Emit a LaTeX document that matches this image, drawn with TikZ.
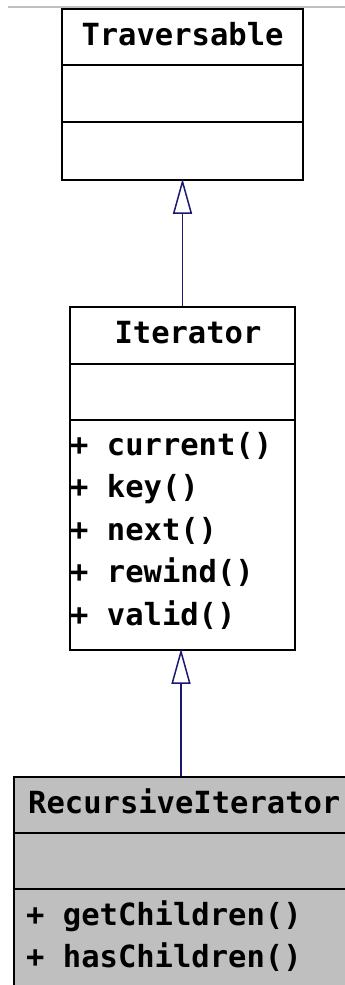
\documentclass[tikz,border=0pt]{standalone}
\usepackage{fontspec}
\setmonofont{DejaVu Sans Mono}
\usetikzlibrary{arrows.meta}

\definecolor{edgeblue}{RGB}{25,25,112}
\definecolor{hilite}{RGB}{191,191,191}

\begin{document}
\begin{tikzpicture}[x=1pt, y=-1pt,
  classbox/.style={draw=black, line width=1.6pt, inner sep=0pt},
  txt/.style={font=\ttfamily\bfseries\fontsize{30.5}{30.5}\selectfont, inner sep=0pt},
  inherit/.style={draw=edgeblue, line width=1.5pt, shorten >=-2pt, -{Triangle[open, length=35pt, width=19pt, line width=1.5pt]}}]
\useasboundingbox (0,0) rectangle (345,985);
\clip (0,0) rectangle (345,985);

\draw[black!25, line width=2pt] (8,7) -- (345,7);

% Traversable
\node[classbox, fill=white, minimum width=241pt, minimum height=171pt] (trav) at (182.5,94.5) {};
\node[txt, anchor=base] (travname) at (182.5,45) {Traversable};
\draw[line width=1.6pt] (62,65) -- (303,65) (62,122) -- (303,122);

% Iterator
\node[classbox, fill=white, minimum width=225pt, minimum height=343pt] (iter) at (182.5,478.5) {};
\node[txt, anchor=base] (itername) at (188,343) {Iterator};
\draw[line width=1.6pt] (70,364) -- (295,364) (70,420) -- (295,420);
\foreach \m [count=\i from 0] in {current,key,next,rewind,valid}
\node[txt, anchor=base west] (iterm\i) at (70,455+42.5*\i) {+ \m()};

% RecursiveIterator
\node[classbox, fill=hilite, minimum width=334pt, minimum height=240pt] (recit) at (181,897) {};
\node[txt, anchor=base west] (recitname) at (28,813) {RecursiveIterator};
\draw[line width=1.6pt] (14,833) -- (348,833) (14,889) -- (348,889);
\node[txt, anchor=base west] (recitm0) at (26,925) {+ getChildren()};
\node[txt, anchor=base west] (recitm1) at (26,967) {+ hasChildren()};

\draw[inherit] (iter.north) -- (iter.north |- trav.south);
\draw[inherit] (recit.north) -- (recit.north |- iter.south);

\end{tikzpicture}
\end{document}
